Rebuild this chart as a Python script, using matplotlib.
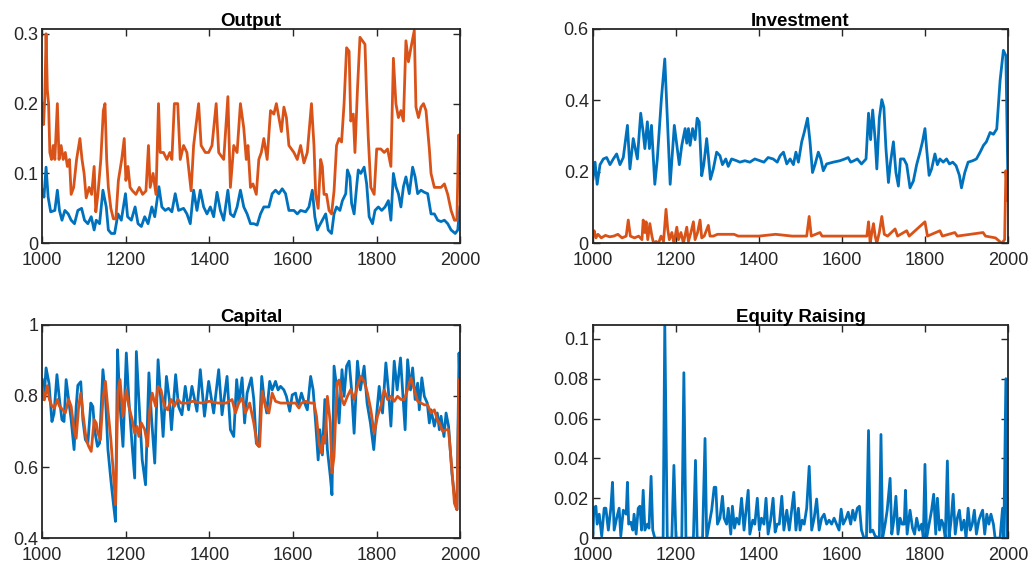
import numpy as np
import matplotlib
matplotlib.use("Agg")
import matplotlib.pyplot as plt

# series are stored as [time, value] pairs (turning points of each path)
output_firm = [[1000,0.20],[1003,0.17],[1006,0.21],[1009,0.30],[1012,0.22],[1015,0.20],[1018,0.13],[1022,0.12],[1026,0.14],[1030,0.12],[1036,0.20],[1040,0.12],[1045,0.14],[1050,0.12],[1055,0.13],[1060,0.11],[1065,0.12],[1069,0.07],[1075,0.08],[1082,0.12],[1090,0.15],[1095,0.12],[1100,0.10],[1105,0.065],[1112,0.08],[1118,0.07],[1124,0.11],[1128,0.045],[1133,0.07],[1140,0.12],[1146,0.19],[1150,0.20],[1154,0.12],[1158,0.08],[1164,0.05],[1170,0.035],[1176,0.035],[1182,0.09],[1190,0.12],[1196,0.15],[1200,0.09],[1205,0.11],[1210,0.08],[1216,0.075],[1224,0.07],[1232,0.08],[1240,0.07],[1248,0.075],[1254,0.14],[1258,0.08],[1265,0.10],[1272,0.07],[1278,0.20],[1282,0.13],[1290,0.13],[1298,0.12],[1305,0.13],[1310,0.12],[1316,0.20],[1324,0.20],[1330,0.12],[1338,0.14],[1346,0.13],[1356,0.075],[1362,0.14],[1374,0.20],[1380,0.14],[1390,0.13],[1398,0.13],[1406,0.14],[1416,0.20],[1422,0.13],[1434,0.12],[1444,0.21],[1450,0.08],[1458,0.14],[1466,0.13],[1474,0.20],[1482,0.165],[1488,0.12],[1492,0.14],[1498,0.08],[1504,0.085],[1512,0.07],[1518,0.12],[1524,0.13],[1530,0.15],[1538,0.12],[1546,0.19],[1554,0.185],[1560,0.20],[1566,0.18],[1572,0.16],[1578,0.195],[1584,0.18],[1590,0.14],[1602,0.13],[1610,0.12],[1618,0.14],[1626,0.115],[1634,0.13],[1644,0.20],[1650,0.14],[1654,0.07],[1660,0.05],[1666,0.12],[1670,0.11],[1674,0.07],[1680,0.07],[1686,0.047],[1692,0.042],[1698,0.075],[1704,0.14],[1710,0.15],[1716,0.145],[1722,0.20],[1728,0.28],[1734,0.275],[1738,0.175],[1744,0.185],[1748,0.13],[1754,0.22],[1760,0.295],[1766,0.29],[1772,0.285],[1776,0.21],[1780,0.15],[1786,0.08],[1794,0.07],[1800,0.135],[1810,0.135],[1818,0.13],[1826,0.135],[1834,0.11],[1840,0.265],[1846,0.20],[1852,0.18],[1858,0.19],[1864,0.175],[1870,0.29],[1876,0.26],[1882,0.28],[1890,0.305],[1894,0.195],[1900,0.18],[1906,0.195],[1912,0.20],[1918,0.19],[1926,0.135],[1930,0.10],[1938,0.08],[1946,0.08],[1954,0.08],[1962,0.085],[1970,0.07],[1978,0.047],[1986,0.033],[1992,0.033],[1996,0.155],[2000,0.13]]

output_agg = [[1000,0.076],[1004,0.066],[1009,0.109],[1014,0.066],[1020,0.045],[1030,0.047],[1036,0.076],[1041,0.047],[1047,0.033],[1054,0.047],[1062,0.042],[1069,0.033],[1077,0.028],[1085,0.047],[1094,0.050],[1101,0.033],[1109,0.028],[1117,0.038],[1124,0.019],[1129,0.033],[1137,0.028],[1145,0.076],[1153,0.052],[1158,0.019],[1165,0.014],[1173,0.014],[1181,0.042],[1189,0.033],[1199,0.071],[1204,0.038],[1213,0.033],[1222,0.052],[1229,0.028],[1237,0.024],[1245,0.038],[1253,0.028],[1262,0.052],[1269,0.038],[1279,0.081],[1286,0.052],[1294,0.047],[1302,0.050],[1310,0.045],[1318,0.071],[1326,0.047],[1338,0.050],[1346,0.042],[1354,0.028],[1362,0.076],[1370,0.047],[1378,0.076],[1386,0.052],[1394,0.042],[1402,0.052],[1410,0.038],[1418,0.073],[1426,0.047],[1434,0.033],[1444,0.076],[1450,0.042],[1458,0.038],[1466,0.052],[1474,0.076],[1482,0.052],[1490,0.042],[1498,0.028],[1506,0.028],[1514,0.026],[1522,0.042],[1530,0.052],[1542,0.052],[1550,0.071],[1558,0.076],[1566,0.071],[1574,0.078],[1582,0.071],[1590,0.047],[1602,0.047],[1610,0.042],[1618,0.047],[1630,0.045],[1638,0.052],[1646,0.076],[1652,0.038],[1658,0.019],[1662,0.024],[1670,0.033],[1678,0.042],[1684,0.019],[1692,0.014],[1698,0.042],[1704,0.052],[1712,0.047],[1718,0.061],[1726,0.071],[1730,0.105],[1736,0.095],[1740,0.057],[1746,0.042],[1752,0.081],[1756,0.105],[1762,0.100],[1770,0.109],[1776,0.085],[1782,0.038],[1790,0.028],[1796,0.047],[1804,0.052],[1812,0.047],[1820,0.052],[1828,0.061],[1834,0.033],[1840,0.100],[1846,0.081],[1852,0.071],[1858,0.052],[1864,0.081],[1870,0.095],[1878,0.071],[1886,0.109],[1892,0.095],[1898,0.071],[1906,0.076],[1914,0.073],[1922,0.071],[1930,0.042],[1938,0.042],[1946,0.033],[1954,0.031],[1962,0.033],[1970,0.028],[1978,0.019],[1988,0.014],[1994,0.019],[1999,0.052]]

invest_agg = [[1000,0.18],[1005,0.227],[1010,0.165],[1017,0.22],[1025,0.236],[1033,0.24],[1041,0.22],[1049,0.236],[1057,0.25],[1065,0.22],[1073,0.24],[1083,0.33],[1089,0.208],[1097,0.293],[1107,0.236],[1115,0.364],[1121,0.31],[1125,0.265],[1131,0.34],[1136,0.265],[1141,0.33],[1149,0.165],[1155,0.236],[1165,0.407],[1173,0.516],[1186,0.165],[1196,0.33],[1202,0.274],[1208,0.22],[1214,0.274],[1222,0.321],[1226,0.28],[1230,0.321],[1234,0.274],[1240,0.321],[1246,0.29],[1251,0.35],[1256,0.34],[1262,0.189],[1267,0.22],[1274,0.293],[1278,0.245],[1283,0.179],[1290,0.208],[1298,0.255],[1306,0.245],[1312,0.22],[1320,0.236],[1326,0.215],[1334,0.236],[1346,0.231],[1354,0.227],[1366,0.231],[1378,0.227],[1390,0.236],[1402,0.231],[1412,0.227],[1422,0.24],[1434,0.236],[1444,0.227],[1451,0.245],[1459,0.255],[1467,0.222],[1475,0.236],[1483,0.22],[1489,0.255],[1495,0.227],[1503,0.284],[1509,0.31],[1517,0.35],[1523,0.284],[1529,0.198],[1535,0.22],[1543,0.255],[1549,0.236],[1555,0.203],[1563,0.222],[1579,0.227],[1595,0.231],[1607,0.236],[1615,0.24],[1621,0.227],[1629,0.231],[1637,0.236],[1647,0.222],[1658,0.236],[1664,0.364],[1669,0.29],[1674,0.373],[1680,0.29],[1684,0.208],[1690,0.35],[1696,0.402],[1701,0.38],[1706,0.265],[1712,0.17],[1717,0.227],[1724,0.284],[1730,0.198],[1736,0.16],[1741,0.236],[1749,0.236],[1756,0.22],[1764,0.155],[1772,0.174],[1780,0.22],[1788,0.255],[1794,0.284],[1800,0.321],[1804,0.265],[1810,0.19],[1816,0.208],[1824,0.25],[1830,0.22],[1836,0.236],[1844,0.227],[1852,0.236],[1859,0.222],[1867,0.227],[1875,0.217],[1883,0.19],[1888,0.155],[1896,0.198],[1904,0.227],[1915,0.231],[1924,0.236],[1933,0.255],[1941,0.274],[1948,0.284],[1957,0.31],[1965,0.305],[1973,0.32],[1981,0.455],[1989,0.54],[1995,0.525],[1998,0.31],[2000,0.165]]

invest_firm = [[1000,0.02],[1003,0.035],[1007,0.015],[1012,0.025],[1020,0.015],[1030,0.022],[1040,0.018],[1050,0.02],[1060,0.025],[1070,0.015],[1080,0.02],[1085,0.065],[1090,0.02],[1100,0.015],[1110,0.02],[1118,0.01],[1121,0.065],[1125,0.03],[1128,0.06],[1132,0.01],[1137,0.055],[1142,0.02],[1146,0.0],[1152,0.005],[1158,0.0],[1164,0.02],[1170,0.005],[1176,0.095],[1180,0.04],[1184,0.01],[1190,0.03],[1195,0.0],[1202,0.045],[1206,0.01],[1212,0.03],[1218,0.0],[1226,0.045],[1230,0.005],[1236,0.03],[1242,0.06],[1246,0.01],[1252,0.03],[1258,0.065],[1262,0.015],[1268,0.02],[1278,0.05],[1282,0.02],[1290,0.02],[1300,0.025],[1340,0.025],[1350,0.02],[1400,0.02],[1440,0.025],[1480,0.02],[1515,0.02],[1521,0.075],[1526,0.02],[1547,0.03],[1552,0.02],[1600,0.02],[1640,0.02],[1660,0.02],[1664,0.06],[1668,0.0],[1672,0.03],[1676,0.055],[1680,0.02],[1684,0.0],[1690,0.03],[1696,0.075],[1702,0.025],[1710,0.02],[1728,0.04],[1734,0.02],[1756,0.035],[1762,0.02],[1800,0.06],[1806,0.02],[1836,0.035],[1842,0.02],[1872,0.03],[1878,0.02],[1940,0.03],[1946,0.02],[1970,0.015],[1985,0.0],[1992,0.01],[1995,0.203],[2000,0.12]]

capital_agg = [[1000,0.846],[1004,0.79],[1009,0.879],[1016,0.836],[1023,0.728],[1028,0.75],[1035,0.86],[1041,0.79],[1047,0.733],[1052,0.728],[1057,0.846],[1063,0.79],[1069,0.733],[1076,0.649],[1081,0.77],[1085,0.83],[1092,0.84],[1097,0.733],[1103,0.677],[1109,0.667],[1116,0.78],[1121,0.77],[1125,0.705],[1132,0.658],[1137,0.667],[1145,0.874],[1151,0.8],[1157,0.649],[1164,0.564],[1170,0.498],[1175,0.447],[1180,0.93],[1185,0.79],[1193,0.658],[1201,0.921],[1207,0.79],[1215,0.658],[1221,0.569],[1225,0.925],[1231,0.79],[1239,0.62],[1247,0.55],[1255,0.865],[1261,0.743],[1269,0.611],[1277,0.902],[1284,0.78],[1289,0.686],[1297,0.855],[1304,0.79],[1309,0.705],[1319,0.86],[1326,0.77],[1334,0.747],[1342,0.827],[1350,0.761],[1358,0.827],[1370,0.757],[1378,0.874],[1388,0.743],[1398,0.841],[1410,0.752],[1422,0.874],[1430,0.747],[1442,0.855],[1450,0.705],[1458,0.686],[1465,0.846],[1470,0.78],[1478,0.851],[1484,0.724],[1490,0.808],[1500,0.851],[1506,0.79],[1512,0.667],[1518,0.658],[1525,0.855],[1530,0.799],[1537,0.752],[1544,0.841],[1550,0.817],[1558,0.841],[1564,0.817],[1570,0.827],[1578,0.817],[1584,0.799],[1592,0.757],[1598,0.803],[1606,0.808],[1612,0.771],[1620,0.808],[1626,0.785],[1634,0.761],[1642,0.855],[1648,0.817],[1654,0.724],[1660,0.62],[1664,0.705],[1670,0.634],[1676,0.79],[1682,0.649],[1689,0.574],[1693,0.522],[1698,0.884],[1705,0.817],[1710,0.724],[1717,0.874],[1722,0.799],[1728,0.884],[1734,0.898],[1740,0.817],[1746,0.695],[1754,0.898],[1761,0.817],[1770,0.884],[1777,0.78],[1785,0.724],[1793,0.649],[1798,0.724],[1806,0.827],[1814,0.752],[1822,0.893],[1828,0.817],[1834,0.715],[1842,0.898],[1849,0.817],[1857,0.907],[1862,0.817],[1868,0.705],[1874,0.902],[1881,0.817],[1886,0.879],[1892,0.79],[1898,0.836],[1902,0.761],[1908,0.851],[1914,0.799],[1921,0.78],[1926,0.724],[1930,0.761],[1938,0.715],[1945,0.752],[1950,0.705],[1954,0.743],[1961,0.686],[1966,0.752],[1972,0.715],[1980,0.583],[1988,0.498],[1992,0.48],[1997,0.921],[2000,0.796]]

capital_firm = [[1000,0.822],[1005,0.789],[1012,0.829],[1017,0.79],[1023,0.771],[1029,0.766],[1036,0.79],[1041,0.771],[1049,0.761],[1055,0.752],[1063,0.79],[1069,0.771],[1076,0.705],[1081,0.681],[1087,0.771],[1092,0.808],[1097,0.752],[1105,0.677],[1111,0.658],[1117,0.644],[1124,0.733],[1129,0.724],[1133,0.695],[1139,0.677],[1145,0.79],[1151,0.841],[1157,0.761],[1164,0.677],[1170,0.583],[1175,0.494],[1181,0.815],[1186,0.846],[1193,0.743],[1201,0.817],[1207,0.771],[1215,0.733],[1221,0.695],[1227,0.714],[1231,0.686],[1237,0.724],[1245,0.705],[1252,0.658],[1257,0.761],[1263,0.808],[1271,0.771],[1277,0.827],[1284,0.817],[1292,0.771],[1300,0.761],[1308,0.79],[1316,0.771],[1324,0.79],[1332,0.78],[1345,0.78],[1360,0.785],[1380,0.78],[1400,0.785],[1420,0.78],[1440,0.78],[1454,0.79],[1462,0.752],[1470,0.78],[1478,0.794],[1486,0.752],[1496,0.78],[1506,0.724],[1514,0.663],[1520,0.658],[1526,0.813],[1534,0.771],[1542,0.752],[1550,0.808],[1558,0.785],[1570,0.78],[1590,0.78],[1606,0.78],[1614,0.766],[1620,0.78],[1630,0.785],[1642,0.78],[1650,0.78],[1656,0.743],[1662,0.667],[1668,0.639],[1672,0.686],[1676,0.667],[1682,0.799],[1689,0.724],[1693,0.583],[1698,0.63],[1705,0.836],[1710,0.845],[1717,0.79],[1722,0.775],[1730,0.799],[1738,0.818],[1746,0.79],[1754,0.827],[1762,0.855],[1770,0.841],[1778,0.808],[1786,0.761],[1794,0.695],[1802,0.743],[1810,0.771],[1818,0.817],[1826,0.79],[1834,0.799],[1842,0.785],[1850,0.799],[1858,0.79],[1866,0.79],[1874,0.818],[1882,0.851],[1890,0.818],[1898,0.785],[1906,0.78],[1914,0.775],[1922,0.775],[1930,0.752],[1938,0.761],[1945,0.733],[1950,0.724],[1958,0.7],[1966,0.705],[1972,0.705],[1980,0.592],[1986,0.498],[1992,0.48],[1997,0.846],[2000,0.818]]

equity_agg = [[1000,0.002],[1002,0.015],[1007,0.016],[1010,0.007],[1015,0.012],[1021,0.001],[1027,0.015],[1031,0.015],[1037,0.004],[1043,0.015],[1047,0.028],[1051,0.004],[1057,0.010],[1063,0.015],[1067,0.001],[1073,0.014],[1080,0.012],[1083,0.028],[1086,0.007],[1091,0.008],[1096,0.004],[1099,0.012],[1104,0.002],[1109,0.015],[1113,0.016],[1117,0.004],[1121,0.024],[1125,0.004],[1131,0.007],[1135,0.005],[1140,0.031],[1144,0.004],[1149,0.0],[1169,0.0],[1173,0.108],[1179,0.0],[1190,0.0],[1195,0.0365],[1200,0.0],[1214,0.0],[1219,0.083],[1224,0.0],[1242,0.0],[1247,0.039],[1251,0.0],[1264,0.0],[1270,0.050],[1274,0.0],[1280,0.007],[1286,0.014],[1292,0.0255],[1296,0.0255],[1300,0.007],[1306,0.010],[1312,0.021],[1316,0.010],[1322,0.007],[1326,0.015],[1332,0.002],[1336,0.016],[1341,0.005],[1346,0.010],[1352,0.007],[1358,0.020],[1364,0.004],[1369,0.014],[1374,0.024],[1378,0.002],[1385,0.009],[1390,0.007],[1396,0.020],[1401,0.004],[1406,0.010],[1412,0.007],[1417,0.020],[1422,0.002],[1428,0.009],[1434,0.020],[1439,0.003],[1444,0.007],[1449,0.007],[1455,0.021],[1460,0.004],[1467,0.014],[1473,0.004],[1479,0.0145],[1484,0.023],[1489,0.004],[1495,0.015],[1499,0.004],[1504,0.009],[1509,0.007],[1515,0.015],[1521,0.036],[1527,0.004],[1533,0.010],[1539,0.0196],[1545,0.004],[1551,0.010],[1557,0.012],[1563,0.007],[1569,0.009],[1575,0.007],[1581,0.010],[1587,0.007],[1593,0.004],[1598,0.0145],[1603,0.007],[1610,0.010],[1615,0.013],[1621,0.007],[1626,0.014],[1631,0.009],[1637,0.015],[1642,0.016],[1647,0.004],[1653,0.0],[1659,0.0],[1664,0.054],[1668,0.003],[1674,0.004],[1680,0.001],[1690,0.0],[1694,0.052],[1698,0.0],[1704,0.007],[1709,0.014],[1716,0.030],[1720,0.002],[1725,0.009],[1730,0.021],[1735,0.002],[1740,0.010],[1745,0.007],[1750,0.007],[1753,0.024],[1757,0.002],[1764,0.014],[1770,0.005],[1775,0.002],[1780,0.010],[1786,0.004],[1792,0.007],[1796,0.0],[1800,0.037],[1804,0.0],[1810,0.007],[1816,0.014],[1821,0.022],[1826,0.002],[1830,0.020],[1835,0.004],[1840,0.009],[1844,0.007],[1849,0.0],[1854,0.0387],[1858,0.0],[1863,0.009],[1868,0.022],[1873,0.002],[1878,0.010],[1883,0.014],[1888,0.004],[1894,0.009],[1899,0.0],[1904,0.015],[1909,0.004],[1914,0.007],[1919,0.014],[1924,0.002],[1930,0.009],[1935,0.012],[1939,0.014],[1944,0.002],[1949,0.012],[1954,0.007],[1959,0.012],[1965,0.007],[1969,0.0],[1981,0.0],[1987,0.015],[1990,0.0],[1995,0.080],[1998,0.0],[2000,0.0]]

equity_firm = [[1000,0.0],[2000,0.0]]

panels = [
    ("Output", [output_agg, output_firm], (0, 0.307), [0, 0.1, 0.2, 0.3], ["0", "0.1", "0.2", "0.3"]),
    ("Investment", [invest_agg, invest_firm], (0, 0.6), [0, 0.2, 0.4, 0.6], ["0", "0.2", "0.4", "0.6"]),
    ("Capital", [capital_agg, capital_firm], (0.4, 1.0), [0.4, 0.6, 0.8, 1.0], ["0.4", "0.6", "0.8", "1"]),
    ("Equity Raising", [equity_agg, equity_firm], (0, 0.107), [0, 0.02, 0.04, 0.06, 0.08, 0.1],
     ["0", "0.02", "0.04", "0.06", "0.08", "0.1"]),
]

x_ticks = [1000, 1200, 1400, 1600, 1800, 2000]
colors = ["#0072BD", "#D95319"]

plt.rcParams["font.family"] = ["Liberation Sans", "DejaVu Sans"]

fig = plt.figure(figsize=(10.32, 5.67), dpi=100)
# axes boxes: [left, bottom, width, height] in figure fractions
boxes = [
    [0.041, 0.571, 0.405, 0.378],
    [0.5746, 0.571, 0.4021, 0.378],
    [0.041, 0.051, 0.405, 0.376],
    [0.5746, 0.051, 0.4021, 0.376],
]

for box, (title, series, ylim, yt, ytl) in zip(boxes, panels):
    ax = fig.add_axes(box)
    for s, c in zip(series, colors):
        arr = np.array(s)
        ax.plot(arr[:, 0], arr[:, 1], color=c, lw=2.0)
    ax.set_xlim(1000, 2000)
    ax.set_ylim(*ylim)
    ax.set_xticks(x_ticks)
    ax.set_xticklabels([str(v) for v in x_ticks])
    ax.set_yticks(yt)
    ax.set_yticklabels(ytl)
    ax.tick_params(direction="in", top=True, right=True, length=5, width=1.0,
                   colors="#262626", labelsize=13)
    ax.tick_params(axis="x", pad=6.5)
    ax.tick_params(axis="y", pad=3)
    for sp in ax.spines.values():
        sp.set_linewidth(1.3)
        sp.set_color("#262626")
    ax.set_title(title, fontsize=13.5, fontweight="bold", pad=2)

fig.savefig("out.png", dpi=100)
